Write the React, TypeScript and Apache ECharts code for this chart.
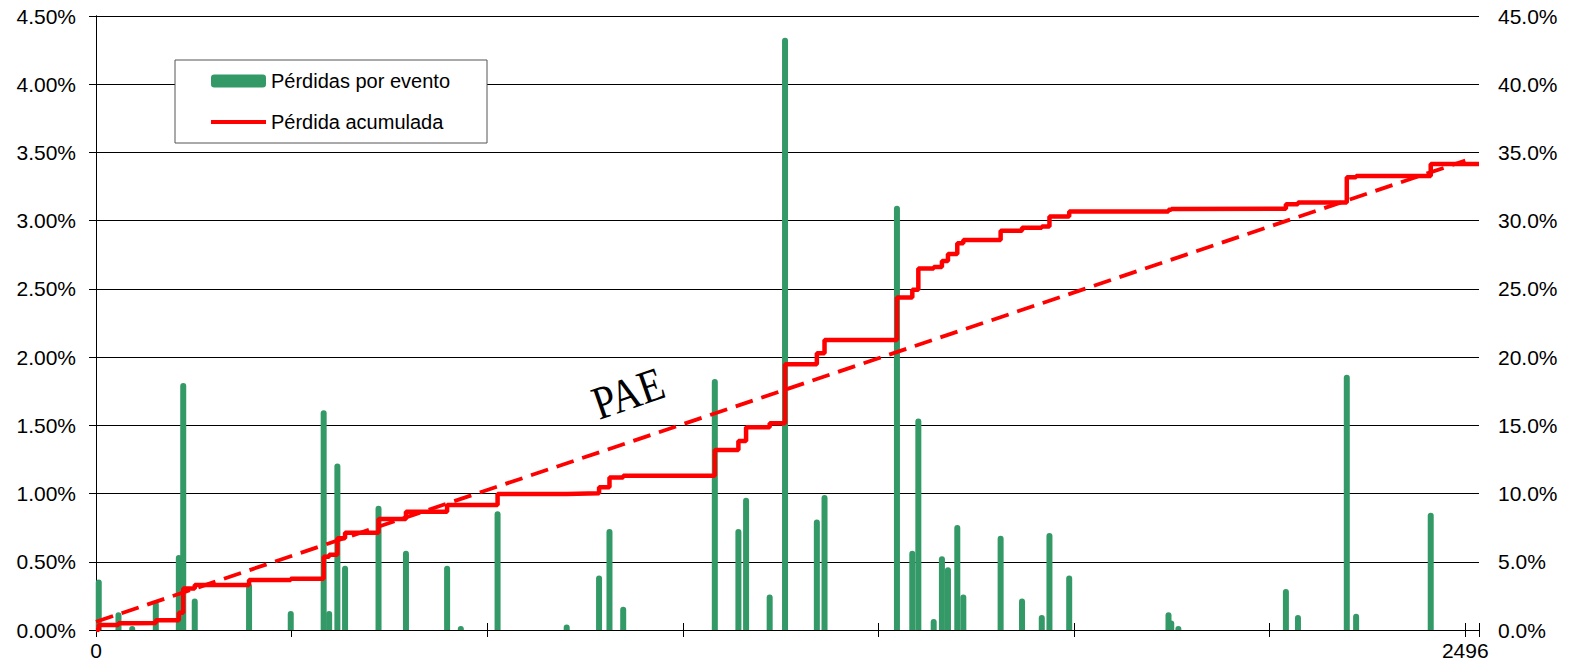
import React, { useEffect, useRef } from 'react';
import * as echarts from 'echarts';

// Year (x) of each loss event
const eventYear = [
  5, 41, 66, 109, 151, 159, 180, 279, 355, 415, 425, 440, 454, 515, 565, 640, 665, 732,
  858, 917, 936, 961, 1128, 1171, 1185, 1228, 1256, 1314, 1328, 1460, 1488, 1499, 1527,
  1542, 1553, 1570, 1581, 1649, 1688, 1724, 1738, 1774, 1955, 1960, 1973, 2169, 2191,
  2280, 2297, 2433,
];
// Loss per event (% , left axis)
const eventLoss = [
  0.37, 0.13, 0.02, 0.21, 0.55, 1.81, 0.23, 0.34, 0.14, 1.61, 0.14, 1.22, 0.47, 0.91, 0.58,
  0.47, 0.01, 0.87, 0.04, 0.4, 0.74, 0.17, 1.84, 0.74, 0.97, 0.26, 4.34, 0.81, 0.99, 3.11,
  0.58, 1.55, 0.08, 0.54, 0.46, 0.77, 0.26, 0.69, 0.23, 0.11, 0.71, 0.4, 0.13, 0.07, 0.02,
  0.3, 0.11, 1.87, 0.12, 0.86,
];
// Accumulated loss after each event (% , right axis)
const cumulativeLoss = [
  0.37, 0.5, 0.52, 0.72, 1.27, 3.05, 3.3, 3.67, 3.76, 5.37, 5.52, 6.72, 7.13, 8.14, 8.67,
  9.16, 9.17, 9.97, 10.02, 10.46, 11.17, 11.31, 13.2, 13.85, 14.86, 15.15, 19.48, 20.28,
  21.26, 24.36, 24.93, 26.5, 26.6, 27.05, 27.56, 28.35, 28.59, 29.27, 29.49, 29.57, 30.3,
  30.67, 30.8, 30.86, 30.88, 31.2, 31.33, 33.19, 33.28, 34.15,
];
// PAE reference line (year, %)
const paeYears = [0, 2496];
const paeValues = [0.6, 34.4];

// Axis setup
const xLabelled = [0, 2496];
const xMax = 2521;
const xTickCount = 7;
const leftMax = 4.5;
const leftStep = 0.5;
const rightMax = 45;
const rightStep = 5;

const FONT = '"Liberation Sans", Arial, sans-serif';

export default function App() {
  const ref = useRef<HTMLDivElement>(null);

  useEffect(() => {
    if (!ref.current) return;
    const chart = echarts.init(ref.current, null, { renderer: 'svg' });
    const tickStep = xLabelled[1] / xTickCount;

    const stepData: number[][] = [[0, 0]];
    eventYear.forEach((x, i) => stepData.push([x, cumulativeLoss[i]]));
    stepData.push([xMax, cumulativeLoss[cumulativeLoss.length - 1]]);

    const xBase = {
      type: 'value' as const,
      min: 0,
      max: xMax,
      interval: tickStep,
      splitLine: { show: false },
    };

    chart.setOption({
      animation: false,
      backgroundColor: '#ffffff',
      grid: { left: 96, right: 93, top: 16, bottom: 40, outerBoundsMode: 'none' },
      legend: {
        left: 175,
        top: 60,
        orient: 'vertical',
        backgroundColor: '#ffffff',
        borderColor: '#555555',
        borderWidth: 1,
        padding: [10, 37, 10, 36],
        itemWidth: 55,
        itemHeight: 13,
        itemGap: 19,
        itemTextGap: 4,
        selectedMode: false,
        symbolKeepAspect: true,
        textStyle: { fontFamily: FONT, fontSize: 20, color: '#000', lineHeight: 22 },
        data: [
          { name: 'Pérdidas por evento', icon: 'roundRect' },
          { name: 'Pérdida acumulada', icon: 'path://M0,0H55V4H0Z' },
        ],
      },
      xAxis: [
        {
          ...xBase,
          position: 'bottom',
          axisLine: { show: true, lineStyle: { color: '#000', width: 1 } },
          axisTick: { show: true, inside: false, length: 7, lineStyle: { color: '#000' } },
          axisLabel: {
            show: true,
            margin: 10,
            fontFamily: FONT,
            fontSize: 21,
            color: '#000',
            formatter: (v: number) => {
              const r = Math.round(v);
              return xLabelled.includes(r) ? String(r) : '';
            },
          },
        },
        {
          ...xBase,
          position: 'bottom',
          axisLine: { show: false },
          axisTick: { show: true, inside: true, length: 7, lineStyle: { color: '#000' } },
          axisLabel: { show: false },
        },
      ],
      yAxis: [
        {
          type: 'value',
          position: 'left',
          min: 0,
          max: leftMax,
          interval: leftStep,
          axisLine: { show: true, lineStyle: { color: '#000', width: 1 } },
          axisTick: { show: true, inside: false, length: 7, lineStyle: { color: '#000' } },
          axisLabel: {
            margin: 20,
            fontFamily: FONT,
            fontSize: 21,
            color: '#000',
            formatter: (v: number) => v.toFixed(2) + '%',
          },
          splitLine: { show: true, lineStyle: { color: '#000', width: 1 } },
        },
        {
          type: 'value',
          position: 'right',
          min: 0,
          max: rightMax,
          interval: rightStep,
          axisLine: { show: true, lineStyle: { color: '#000', width: 1 } },
          axisTick: { show: true, inside: false, length: 7, lineStyle: { color: '#000' } },
          axisLabel: {
            margin: 19,
            fontFamily: FONT,
            fontSize: 21,
            color: '#000',
            formatter: (v: number) => v.toFixed(1) + '%',
          },
          splitLine: { show: false },
        },
      ],
      series: [
        {
          name: 'Pérdidas por evento',
          type: 'bar',
          xAxisIndex: 0,
          yAxisIndex: 0,
          barWidth: 6,
          barMinHeight: 4,
          itemStyle: { color: '#339966', borderRadius: [3, 3, 0, 0] },
          data: eventYear.map((x, i) => [x, eventLoss[i]]),
          z: 2,
        },
        {
          name: 'PAE',
          type: 'line',
          xAxisIndex: 0,
          yAxisIndex: 1,
          symbol: 'none',
          showSymbol: false,
          lineStyle: { color: '#ff0000', width: 3.8, type: [18, 9], cap: 'butt' },
          data: paeYears.map((x, i) => [x, paeValues[i]]),
          z: 3,
        },
        {
          name: 'Pérdida acumulada',
          type: 'line',
          xAxisIndex: 0,
          yAxisIndex: 1,
          step: 'end',
          symbol: 'none',
          showSymbol: false,
          lineStyle: { color: '#ff0000', width: 4.5 },
          itemStyle: { color: '#ff0000' },
          data: stepData,
          z: 4,
        },
      ],
      graphic: [
        {
          type: 'text',
          x: 628,
          y: 393,
          rotation: (19 * Math.PI) / 180,
          scaleX: 0.86,
          style: {
            text: 'PAE',
            font: '47px "Liberation Serif", "Times New Roman", serif',
            fill: '#000',
            align: 'center',
            verticalAlign: 'middle',
          },
          z: 10,
        },
      ],
    });

    return () => chart.dispose();
  }, []);

  return (
    <div
      ref={ref}
      style={{ position: 'fixed', left: 0, top: 0, width: 1572, height: 670, background: '#fff' }}
    />
  );
}
